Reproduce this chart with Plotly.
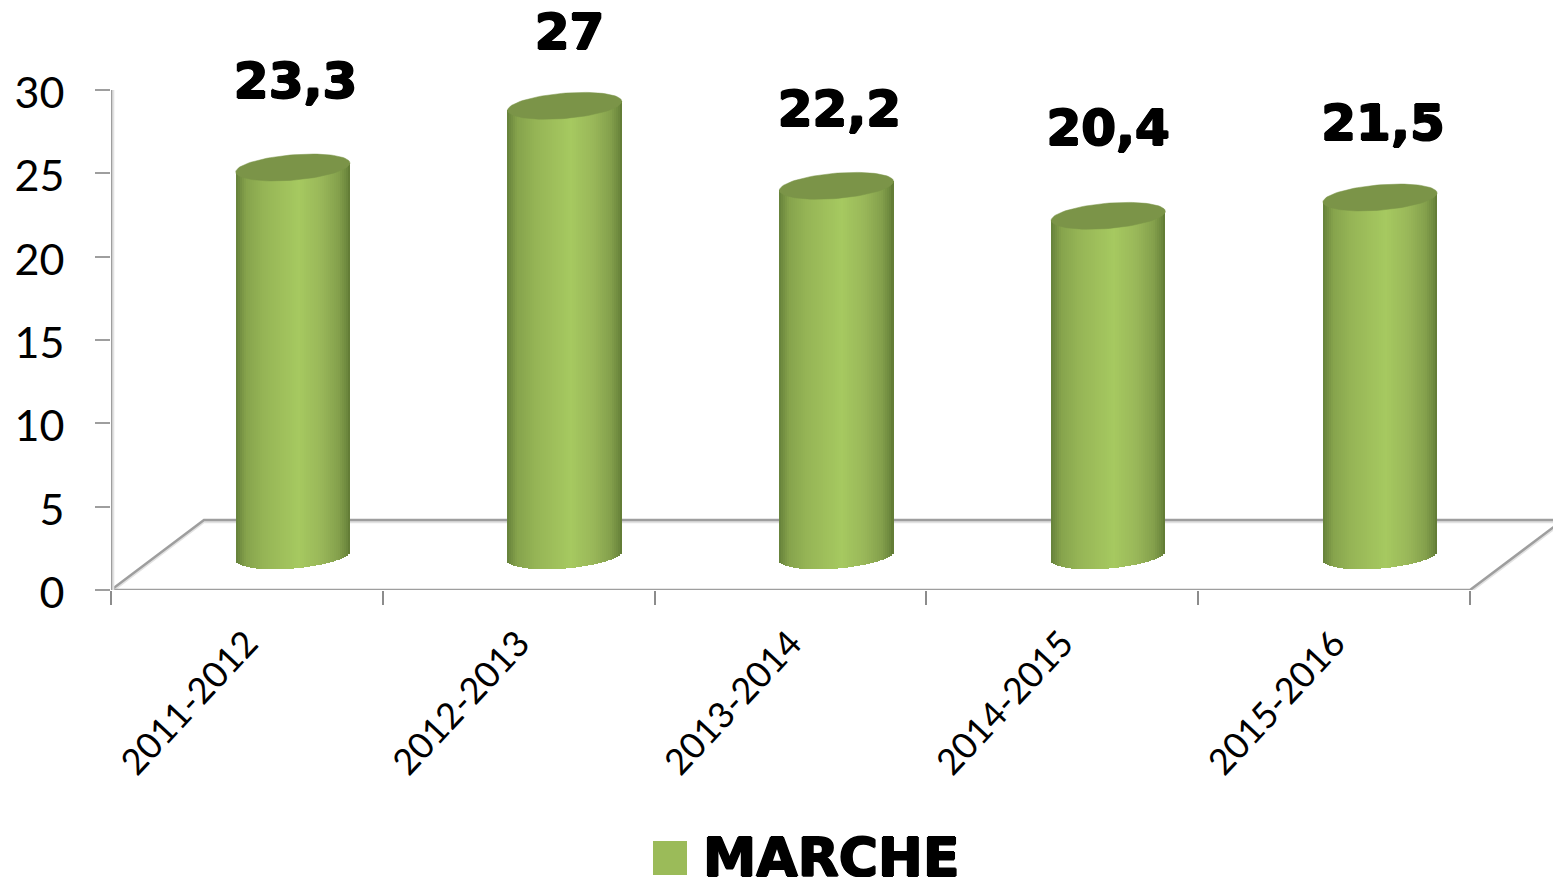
import numpy as np
import plotly.graph_objects as go

categories = ["2011-2012", "2012-2013", "2013-2014", "2014-2015", "2015-2016"]
values = [23.3, 27, 22.2, 20.4, 21.5]
value_labels = ["23,3", "27", "22,2", "20,4", "21,5"]
label_lift = [6.95, 6.2, 6.38, 7.04, 6.23]
label_shift = [0.01, 0.018, 0.011, 0.0, 0.011]
series_name = "MARCHE"

X_END = (1553 - 111) / 271.8
Y_END = 590 / (500 / 30)
DEPTH_X = 0.342
DEPTH_Y = 4.2
CYL_X = 0.669
CYL_HALF = 0.21
CYL_BASE = 2.05
TILT = 0.27
MINOR = 0.76
N_STRIPS = 57
AXIS = "#9e9e9e"
TICK_FONT = "Lato"
BOLD_FONT = "DejaVu Sans"
HEAVY = "1px 0 0 #000, -1px 0 0 #000, 0 1px 0 #000, 0 -1px 0 #000"

stops_t = [0.0, 0.03, 0.09, 0.25, 0.55, 0.75, 0.9, 0.97, 1.0]
stops_rgb = np.array([
    [0x64, 0x80, 0x3a], [0x70, 0x8c, 0x40], [0x86, 0xa3, 0x4c], [0x96, 0xb5, 0x56],
    [0xa6, 0xc9, 0x60], [0x99, 0xb7, 0x59], [0x84, 0xa0, 0x4c], [0x6e, 0x89, 0x3e],
    [0x5e, 0x78, 0x33],
])


def strip_colour(t):
    r, g, b = (np.interp(t, stops_t, stops_rgb[:, k]) for k in range(3))
    return f"rgb({r:.0f},{g:.0f},{b:.0f})"


def ellipse(cx, cy):
    a = np.linspace(0, 2 * np.pi, 90)
    return (cx + CYL_HALF * np.cos(a)).tolist(), (cy + TILT * np.cos(a) + MINOR * np.sin(a)).tolist()


bx, bbase, by, bcol = [], [], [], []
cap_x, cap_y = [], []
strip_w = 2 * CYL_HALF / N_STRIPS
for i, v in enumerate(values):
    cx = i + CYL_X
    for s in range(N_STRIPS):
        t = (s + 0.5) / N_STRIPS
        u = 2 * t - 1
        bottom = CYL_BASE + TILT * u - MINOR * np.sqrt(1 - u * u)
        top = v + CYL_BASE + TILT * u
        bx.append(cx + u * CYL_HALF)
        bbase.append(bottom)
        by.append(top - bottom)
        bcol.append(strip_colour(t))
    ex, ey = ellipse(cx, v + CYL_BASE)
    cap_x += ex + [None]
    cap_y += ey + [None]

fig = go.Figure()


def line(xs, ys, colour=AXIS, width=2.5, z=0):
    fig.add_trace(go.Scatter(x=xs, y=ys, mode="lines", line=dict(color=colour, width=width),
                             hoverinfo="skip", showlegend=False, zorder=z))


# soft shadow, then the walls and floor
floor_x = [0, DEPTH_X, X_END + 0.1, None, 0, 5, 5 + DEPTH_X]
floor_y = [0, DEPTH_Y, DEPTH_Y, None, 0, 0, DEPTH_Y]
line(floor_x, [None if y is None else y - 0.1 for y in floor_y], "#e2e2e2", 3)
line(floor_x, floor_y)
line([0.003, 0.003], [0, 30], "#e2e2e2", 5)
line([0, 0], [0, 30])

fig.add_trace(go.Bar(x=bx, y=by, base=bbase, width=strip_w * 1.08,
                     marker=dict(color=bcol, line=dict(width=0)),
                     hoverinfo="skip", showlegend=False, zorder=1))
fig.add_trace(go.Scatter(x=cap_x, y=cap_y, mode="lines", fill="toself", fillcolor="#7b9448",
                         line=dict(color="#7b9448", width=0.5), hoverinfo="skip",
                         showlegend=False, zorder=2))
fig.add_trace(go.Scatter(
    x=[i + CYL_X + s for i, s in enumerate(label_shift)],
    y=[v + l for v, l in zip(values, label_lift)],
    mode="text", text=value_labels, textposition="middle center",
    textfont=dict(family=BOLD_FONT, size=50, color="#000000", weight="bold", shadow=HEAVY),
    hoverinfo="skip", showlegend=False, zorder=3, cliponaxis=False))
fig.add_trace(go.Scatter(x=[None], y=[None], mode="markers", name=series_name,
                         marker=dict(symbol="square", size=6, color="#9bbb59")))

fig.add_shape(type="rect", xref="paper", yref="paper", layer="above",
              x0=(653 - 111) / 1442, x1=(687 - 111) / 1442,
              y0=(590 - 875) / 590, y1=(590 - 841) / 590,
              fillcolor="#9bbb59", line=dict(width=0))

fig.update_layout(
    width=1553, height=877, margin=dict(l=111, r=0, t=0, b=287, autoexpand=False),
    paper_bgcolor="#ffffff", plot_bgcolor="rgba(0,0,0,0)",
    barmode="overlay", bargap=0,
    showlegend=True,
    legend=dict(orientation="h", x=(663 - 111) / 1442, xanchor="left",
                y=(590 - 855) / 590, yanchor="middle", bgcolor="rgba(0,0,0,0)",
                itemsizing="trace",
                font=dict(family=BOLD_FONT, size=53.5, color="#000000", weight="bold", shadow=HEAVY)),
    xaxis=dict(range=[0, X_END], tickmode="array", tickvals=[i + 0.5 for i in range(5)],
               ticktext=categories, tickangle=-47, ticks="", showgrid=False, zeroline=False,
               showline=False, ticklabelstandoff=24,
               tickfont=dict(family=TICK_FONT, size=36, color="#000000"),
               minor=dict(ticks="outside", dtick=1, tick0=0, ticklen=14, tickwidth=2,
                          tickcolor="#8c8c8c", showgrid=False)),
    yaxis=dict(range=[0, Y_END], tickmode="array", tickvals=[0, 5, 10, 15, 20, 25, 30],
               ticks="outside", ticklen=15, tickwidth=2, tickcolor=AXIS,
               showgrid=False, zeroline=False, showline=False, ticklabelstandoff=22,
               ticklabelshift=3,
               tickfont=dict(family=TICK_FONT, size=43, color="#000000")),
)

fig.write_html("out.html", config=dict(displayModeBar=False),
               post_script="document.body.style.margin='0';document.body.style.overflow='hidden';")
